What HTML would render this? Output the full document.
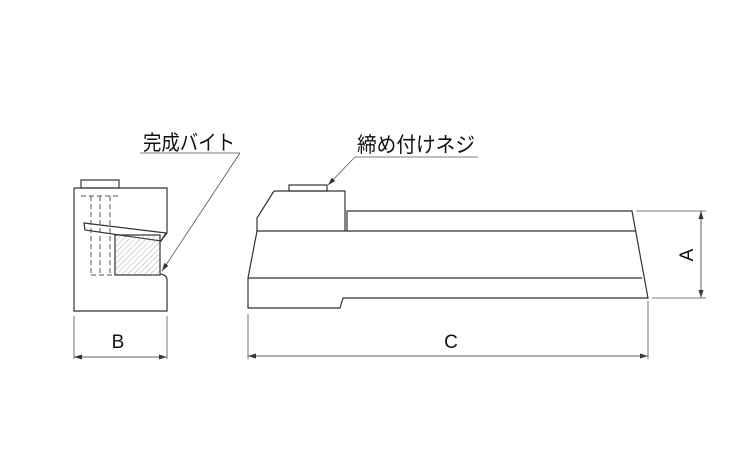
<!DOCTYPE html>
<html><head><meta charset="utf-8"><style>
html,body{margin:0;padding:0;background:#fff;}
svg{display:block;}
text{font-family:"Liberation Sans","Noto Sans CJK JP",sans-serif;fill:#111;}
</style></head><body>
<svg width="750" height="450" viewBox="0 0 750 450" xmlns="http://www.w3.org/2000/svg">
<defs>
<pattern id="h" width="4" height="4" patternUnits="userSpaceOnUse" patternTransform="rotate(45)">
<line x1="0" y1="0" x2="0" y2="4" stroke="#999" stroke-width="0.8"/></pattern>
<marker id="a" markerWidth="8" markerHeight="6" refX="8" refY="3" orient="auto" markerUnits="userSpaceOnUse">
<path d="M0,0.5 L8,3 L0,5.5z" fill="#333"/></marker>
</defs>
<g fill="none" stroke="#333" stroke-width="1.2">
<rect x="81" y="180" width="38" height="8"/>
<path d="M74,188 H167 V233 M74,188 V311 H167 V280 Q167,275 160,274 M160,242 L167,233"/>
<path d="M84,223 L166,233 L161,241 L85,230 Z"/>
<rect x="115" y="235" width="45" height="40" fill="url(#h)"/>
<g stroke-dasharray="5,3" stroke-width="1" stroke="#555">
<line x1="81" y1="196" x2="119" y2="196"/>
<line x1="91" y1="196" x2="91" y2="275"/>
<line x1="100" y1="196" x2="100" y2="275"/>
<line x1="110" y1="196" x2="110" y2="275"/>
<line x1="91" y1="275" x2="115" y2="275"/>
</g>
<rect x="289" y="185" width="38" height="6"/>
<path d="M274,191 H345 V231 M257,231 V218 L274,191"/>
<path d="M347,231 V211 H632 L648,298 H343 L340,308 H248 V278 L257,231 H635"/>
<line x1="248" y1="278" x2="642" y2="278"/>
</g>
<g stroke="#555" stroke-width="0.8" fill="none">
<line x1="140" y1="153" x2="240" y2="153"/>
<line x1="240" y1="153" x2="162" y2="271" marker-end="url(#a)"/>
<line x1="355" y1="157" x2="478" y2="157"/>
<line x1="355" y1="157" x2="328" y2="185" marker-end="url(#a)"/>
<line x1="74" y1="316" x2="74" y2="359"/>
<line x1="167" y1="316" x2="167" y2="359"/>
<line x1="74" y1="357" x2="167" y2="357" marker-end="url(#a)"/>
<line x1="167" y1="357" x2="74" y2="357" marker-end="url(#a)"/>
<line x1="248" y1="314" x2="248" y2="359"/>
<line x1="648" y1="301" x2="648" y2="359"/>
<line x1="248" y1="356" x2="648" y2="356" marker-end="url(#a)"/>
<line x1="648" y1="356" x2="248" y2="356" marker-end="url(#a)"/>
<line x1="636" y1="211" x2="706" y2="211"/>
<line x1="652" y1="298" x2="706" y2="298"/>
<line x1="701" y1="211" x2="701" y2="298" marker-end="url(#a)"/>
<line x1="701" y1="298" x2="701" y2="211" marker-end="url(#a)"/>
</g>
<text x="143" y="150" font-size="21" textLength="92" lengthAdjust="spacingAndGlyphs">完成バイト</text>
<text x="357" y="152" font-size="21" textLength="118" lengthAdjust="spacingAndGlyphs">締め付けネジ</text>
<text x="118" y="348" font-size="19" text-anchor="middle">B</text>
<text x="451" y="348" font-size="19" text-anchor="middle">C</text>
<text x="0" y="0" font-size="19" text-anchor="middle" transform="translate(693,255) rotate(-90)">A</text>
</svg>
</body></html>
